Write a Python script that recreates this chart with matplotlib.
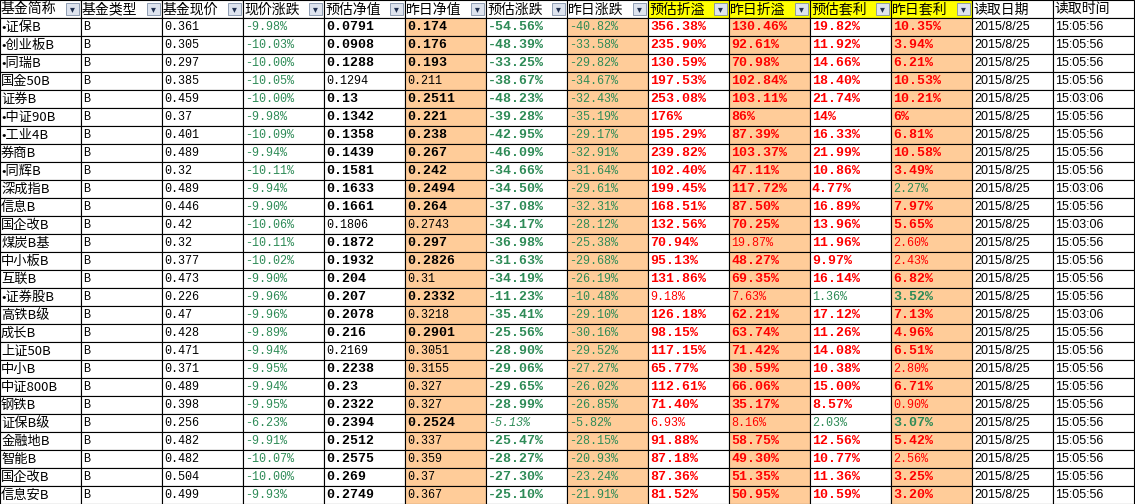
import matplotlib.pyplot as plt
from matplotlib.patches import Rectangle
from matplotlib import font_manager

# column headers of the spreadsheet
headers = ['基金简称', '基金类型', '基金现价', '现价涨跌', '预估净值', '昨日净值', '预估涨跌',
           '昨日涨跌', '预估折溢', '昨日折溢', '预估套利', '昨日套利', '读取日期', '读取时间']

names = ['•证保B', '•创业板B', '•同瑞B', '国金50B', '证券B', '•中证90B', '•工业4B', '券商B',
         '•同辉B', '深成指B', '信息B', '国企改B', '煤炭B基', '中小板B', '互联B', '•证券股B',
         '高铁B级', '成长B', '上证50B', '中小B', '中证800B', '钢铁B', '证保B级', '金融地B',
         '智能B', '国企改B', '信息安B']
price = ['0.361', '0.305', '0.297', '0.385', '0.459', '0.37', '0.401', '0.489', '0.32', '0.489',
         '0.446', '0.42', '0.32', '0.377', '0.473', '0.226', '0.47', '0.428', '0.471', '0.371',
         '0.489', '0.398', '0.256', '0.482', '0.482', '0.504', '0.499']
price_chg = ['-9.98%', '-10.03%', '-10.00%', '-10.05%', '-10.00%', '-9.98%', '-10.09%', '-9.94%',
             '-10.11%', '-9.94%', '-9.90%', '-10.06%', '-10.11%', '-10.02%', '-9.90%', '-9.96%',
             '-9.96%', '-9.89%', '-9.94%', '-9.95%', '-9.94%', '-9.95%', '-6.23%', '-9.91%',
             '-10.07%', '-10.00%', '-9.93%']
est_nav = ['0.0791', '0.0908', '0.1288', '0.1294', '0.13', '0.1342', '0.1358', '0.1439', '0.1581',
           '0.1633', '0.1661', '0.1806', '0.1872', '0.1932', '0.204', '0.207', '0.2078', '0.216',
           '0.2169', '0.2238', '0.23', '0.2322', '0.2394', '0.2512', '0.2575', '0.269', '0.2749']
prev_nav = ['0.174', '0.176', '0.193', '0.211', '0.2511', '0.221', '0.238', '0.267', '0.242',
            '0.2494', '0.264', '0.2743', '0.297', '0.2826', '0.31', '0.2332', '0.3218', '0.2901',
            '0.3051', '0.3155', '0.327', '0.327', '0.2524', '0.337', '0.359', '0.37', '0.367']
est_chg = ['-54.56%', '-48.39%', '-33.25%', '-38.67%', '-48.23%', '-39.28%', '-42.95%', '-46.09%',
           '-34.66%', '-34.50%', '-37.08%', '-34.17%', '-36.98%', '-31.63%', '-34.19%', '-11.23%',
           '-35.41%', '-25.56%', '-28.90%', '-29.06%', '-29.65%', '-28.99%', '-5.13%', '-25.47%',
           '-28.27%', '-27.30%', '-25.10%']
prev_chg = ['-40.82%', '-33.58%', '-29.82%', '-34.67%', '-32.43%', '-35.19%', '-29.17%', '-32.91%',
            '-31.64%', '-29.61%', '-32.31%', '-28.12%', '-25.38%', '-29.68%', '-26.19%', '-10.48%',
            '-29.10%', '-30.16%', '-29.52%', '-27.27%', '-26.02%', '-26.85%', '-5.82%', '-28.15%',
            '-20.93%', '-23.24%', '-21.91%']
est_prem = ['356.38%', '235.90%', '130.59%', '197.53%', '253.08%', '176%', '195.29%', '239.82%',
            '102.40%', '199.45%', '168.51%', '132.56%', '70.94%', '95.13%', '131.86%', '9.18%',
            '126.18%', '98.15%', '117.15%', '65.77%', '112.61%', '71.40%', '6.93%', '91.88%',
            '87.18%', '87.36%', '81.52%']
prev_prem = ['130.46%', '92.61%', '70.98%', '102.84%', '103.11%', '86%', '87.39%', '103.37%',
             '47.11%', '117.72%', '87.50%', '70.25%', '19.87%', '48.27%', '69.35%', '7.63%',
             '62.21%', '63.74%', '71.42%', '30.59%', '66.06%', '35.17%', '8.16%', '58.75%',
             '49.30%', '51.35%', '50.95%']
est_arb = ['19.82%', '11.92%', '14.66%', '18.40%', '21.74%', '14%', '16.33%', '21.99%', '10.86%',
           '4.77%', '16.89%', '13.96%', '11.96%', '9.97%', '16.14%', '1.36%', '17.12%', '11.26%',
           '14.08%', '10.38%', '15.00%', '8.57%', '2.03%', '12.56%', '10.77%', '11.36%', '10.59%']
prev_arb = ['10.35%', '3.94%', '6.21%', '10.53%', '10.21%', '6%', '6.81%', '10.58%', '3.49%',
            '2.27%', '7.97%', '5.65%', '2.60%', '2.43%', '6.82%', '3.52%', '7.13%', '4.96%',
            '6.51%', '2.80%', '6.71%', '0.90%', '3.07%', '5.42%', '2.56%', '3.25%', '3.20%']
read_time = ['15:05:56', '15:05:56', '15:05:56', '15:05:56', '15:03:06', '15:05:56', '15:05:56',
             '15:05:56', '15:05:56', '15:03:06', '15:05:56', '15:03:06', '15:05:56', '15:05:56',
             '15:05:56', '15:05:56', '15:03:06', '15:05:56', '15:05:56', '15:05:56', '15:05:56',
             '15:05:56', '15:05:56', '15:05:56', '15:05:56', '15:05:56', '15:05:56']
read_date = '2015/8/25'

# bold flags for columns 预估净值, 昨日净值, 预估涨跌, 预估折溢, 昨日折溢, 预估套利, 昨日套利
bold = ['1111111', '1111111', '1111111', '0011111', '1111111', '1111111', '1111111', '1111111',
        '1111111', '1111110', '1111111', '0011111', '1111010', '1111110', '1011111', '1110001',
        '1011111', '1111111', '0011111', '1011110', '1011111', '1011110', '1100001', '1011111',
        '1011110', '1011111', '1011111']
# rows where arbitrage columns are shown in green
green_est_arb = {15, 22}
green_prev_arb = {9, 15, 22}

GREEN = '#2e8b57'
RED = '#ff0000'
ORANGE = '#ffcc99'
YELLOW = '#ffff00'
avail = {f.name for f in font_manager.fontManager.ttflist}
CJK = [f for f in ['Noto Sans CJK SC', 'Noto Sans CJK JP', 'Noto Sans CJK TC',
                   'Noto Sans CJK KR'] if f in avail] + ['DejaVu Sans']
MONO = 'Liberation Mono'

W, H = 81, 18
fig = plt.figure(figsize=(11.35, 5.04), dpi=100)
ax = fig.add_axes([0, 0, 1, 1])
ax.set_xlim(0, 1135)
ax.set_ylim(504, 0)
ax.axis('off')

# backgrounds
for c in range(14):
    for r in range(28):
        fc = 'white'
        if r == 0 and 8 <= c <= 11:
            fc = YELLOW
        elif r > 0 and c in (5, 7, 9, 11):
            fc = ORANGE
        ax.add_patch(Rectangle((c * W, r * H), W, H, fc=fc, ec='black', lw=0.8))

# header
for c, h in enumerate(headers):
    ax.text(c * W + 1, 9.5, h, fontfamily=CJK, fontsize=10, va='center', ha='left')
    if c < 12:
        ax.add_patch(Rectangle((c * W + 66, 3), 13, 12, fc='#dde3ee', ec='#8090a8', lw=0.6))
        ax.text(c * W + 72.5, 9, '▾', fontsize=7, ha='center', va='center', color='#203050')

for i in range(len(names)):
    y = (i + 1) * H + 9.5
    b = [f == '1' for f in bold[i]]
    ax.text(1, y, names[i], fontfamily=CJK, fontsize=9.5, va='center')
    cells = [
        (1, 'B', 'black', False, 'normal'),
        (2, price[i], 'black', False, 'normal'),
        (3, price_chg[i], GREEN, False, 'normal'),
        (4, est_nav[i], 'black', b[0], 'normal'),
        (5, prev_nav[i], 'black', b[1], 'normal'),
        (6, est_chg[i], GREEN, b[2], 'italic' if not b[2] else 'normal'),
        (7, prev_chg[i], GREEN, False, 'normal'),
        (8, est_prem[i], RED, b[3], 'normal'),
        (9, prev_prem[i], RED, b[4], 'normal'),
        (10, est_arb[i], GREEN if i in green_est_arb else RED, b[5], 'normal'),
        (11, prev_arb[i], GREEN if i in green_prev_arb else RED, b[6], 'normal'),
    ]
    for c, txt, col, bb, st in cells:
        ax.text(c * W + 2, y, txt, fontfamily=MONO, fontsize=9.5 if bb else 8.5,
                fontweight='bold' if bb else 'normal', fontstyle=st, color=col, va='center')
    ax.text(12 * W + 2, y, read_date, fontfamily='Liberation Sans', fontsize=9, va='center')
    ax.text(13 * W + 2, y, read_time[i], fontfamily='Liberation Sans', fontsize=9, va='center')

fig.savefig('out.png', dpi=100)
